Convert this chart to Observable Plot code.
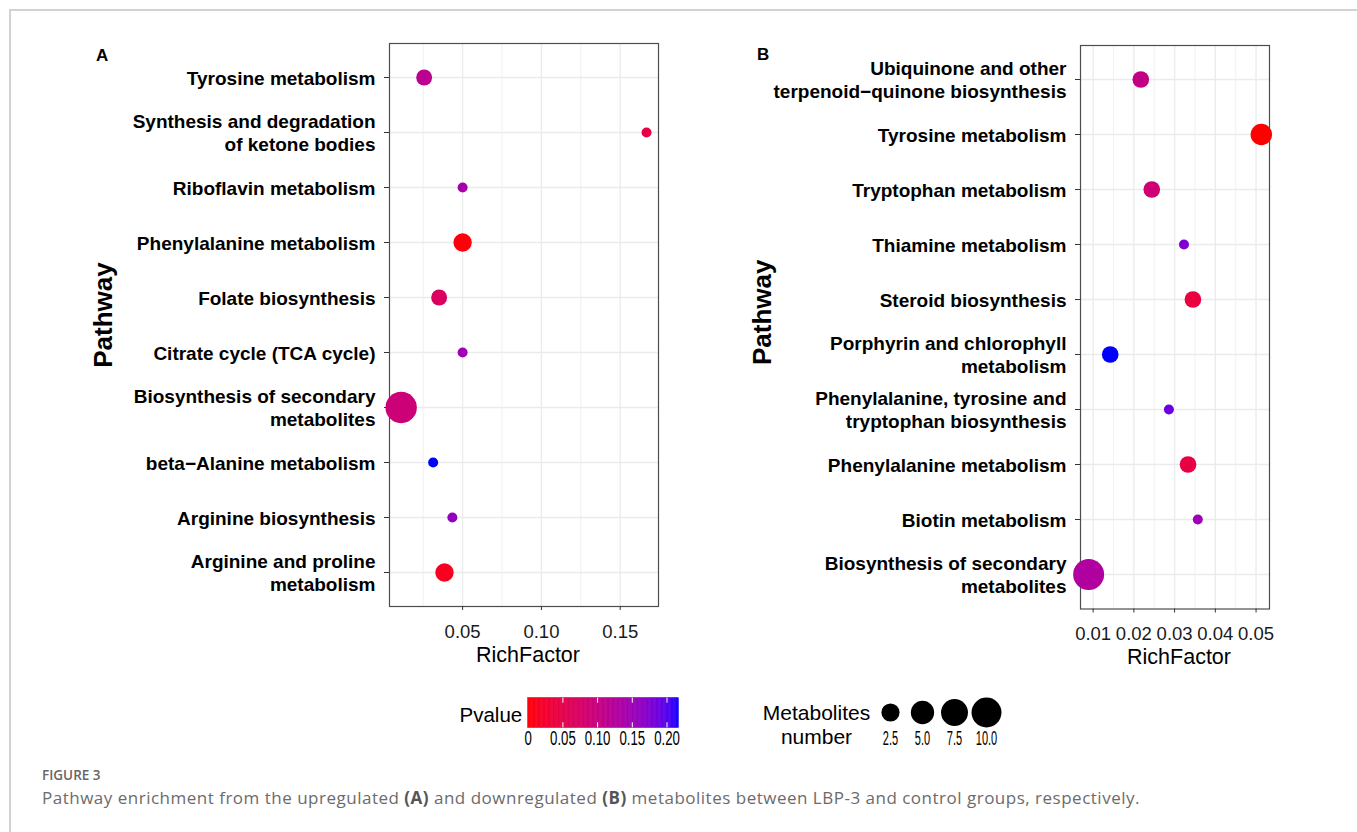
<!DOCTYPE html>
<html><head><meta charset="utf-8">
<script src="https://cdn.jsdelivr.net/npm/d3@7"></script>
<script src="https://cdn.jsdelivr.net/npm/@observablehq/plot@0.6"></script>
<style>
html,body{margin:0;padding:0;background:#fff;}
#fig{position:relative;width:1357px;height:832px;overflow:hidden;background:#fff;font-family:"Liberation Sans",Arial,sans-serif;}
.abs{position:absolute;}
#frameTop{left:9px;top:9px;width:1348px;height:0;border-top:2px solid #d2d2d2;}
#frameLeft{left:9px;top:9px;width:0;height:823px;border-left:2px solid #d2d2d2;}
.letter{font-weight:bold;font-size:17px;line-height:17px;color:#000;font-family:"Liberation Sans",Arial,sans-serif;}
#figlabel{left:42px;top:768.5px;font-family:"Open Sans",sans-serif;font-size:13.5px;line-height:13.5px;color:#666;font-weight:600;white-space:nowrap;}
#caption{left:42px;top:789px;font-family:"Open Sans",sans-serif;font-size:17px;line-height:17px;letter-spacing:0.5px;color:#6b6b6b;white-space:nowrap;}
#caption b{color:#555;font-weight:700;}
svg{overflow:visible;}
</style></head>
<body><div id="fig">
<div id="frameTop" class="abs"></div>
<div id="frameLeft" class="abs"></div>
<div id="panelA" class="abs" style="left:0;top:0;"></div>
<div id="panelB" class="abs" style="left:690px;top:0;"></div>
<div id="legP" class="abs" style="left:440px;top:680px;"></div>
<div id="legS" class="abs" style="left:750px;top:680px;"></div>
<div class="abs letter" style="left:96px;top:46.5px;">A</div>
<div class="abs letter" style="left:757px;top:45.5px;">B</div>
<div id="figlabel" class="abs">FIGURE 3</div>
<div id="caption" class="abs">Pathway enrichment from the upregulated <b>(A)</b> and downregulated <b>(B)</b> metabolites between LBP-3 and control groups, respectively.</div>
</div>
<script>
// ---- Panel A data (top to bottom) ----
const pathwaysA = [
  "Tyrosine metabolism",
  "Synthesis and degradation\nof ketone bodies",
  "Riboflavin metabolism",
  "Phenylalanine metabolism",
  "Folate biosynthesis",
  "Citrate cycle (TCA cycle)",
  "Biosynthesis of secondary\nmetabolites",
  "beta\u2212Alanine metabolism",
  "Arginine biosynthesis",
  "Arginine and proline\nmetabolism"
];
const richA  = [0.0256, 0.1667, 0.05, 0.05, 0.0351, 0.05, 0.0110, 0.0313, 0.0435, 0.0385];
const pvalA  = [0.115, 0.048, 0.141, 0.004, 0.070, 0.148, 0.092, 0.217, 0.160, 0.015];
const countA = [2, 1, 1, 3, 2, 1, 14, 1, 1, 3];

// ---- Panel B data (top to bottom) ----
const pathwaysB = [
  "Ubiquinone and other\nterpenoid\u2212quinone biosynthesis",
  "Tyrosine metabolism",
  "Tryptophan metabolism",
  "Thiamine metabolism",
  "Steroid biosynthesis",
  "Porphyrin and chlorophyll\nmetabolism",
  "Phenylalanine, tyrosine and\ntryptophan biosynthesis",
  "Phenylalanine metabolism",
  "Biotin metabolism",
  "Biosynthesis of secondary\nmetabolites"
];
const richB  = [0.0217, 0.0513, 0.0244, 0.0323, 0.0345, 0.0142, 0.0286, 0.0333, 0.0357, 0.0089];
const pvalB  = [0.105, 0.0005, 0.088, 0.178, 0.040, 0.217, 0.190, 0.045, 0.150, 0.130];
const countB = [2, 4, 2, 1, 2, 2, 1, 2, 1, 11];

// ---- axis / legend ticks ----
const xTicksA = [0.05, 0.10, 0.15];
const xMinorA = [0.025, 0.075, 0.125];
const xTicksB = [0.01, 0.02, 0.03, 0.04, 0.05];
const xMinorB = [0.015, 0.025, 0.035, 0.045];
const pTicks = [0, 0.05, 0.10, 0.15, 0.20];
const sizeBreaks = [2.5, 5.0, 7.5, 10.0];
const sizeLabels = ["2.5", "5.0", "7.5", "10.0"];

const pDomain = [0, 0.217];
const FONT = "Liberation Sans, Arial, sans-serif";
const colorScale = {type: "linear", domain: pDomain, range: ["red", "blue"], interpolate: d3.interpolateLab};

function panel(o) {
  const data = o.pathways.map((p, i) => ({pathway: p, rich: o.rich[i], p: o.pval[i], n: o.count[i]}));
  return Plot.plot({
    width: o.width, height: o.height,
    marginLeft: o.ml, marginRight: o.mr, marginTop: o.mt, marginBottom: o.mb,
    style: {fontFamily: FONT, background: "transparent", overflow: "visible", color: "#000"},
    x: {domain: o.xDomain},
    y: {type: "point", domain: o.pathways, padding: 0.6},
    r: {type: "sqrt", domain: [0, o.rMax], range: o.rRange},
    color: colorScale,
    marks: [
      Plot.gridX(o.xMinor, {stroke: "#ebebeb", strokeOpacity: 1, strokeWidth: 0.7}),
      Plot.gridX(o.xTicks, {stroke: "#ebebeb", strokeOpacity: 1, strokeWidth: 1.3}),
      Plot.gridY(o.pathways, {stroke: "#ebebeb", strokeOpacity: 1, strokeWidth: 1.3}),
      Plot.frame({stroke: "#4d4d4d", strokeWidth: 1.2}),
      Plot.axisX({ticks: o.xTicks, tickFormat: d3.format(".2f"), tickSize: 4, tickPadding: 14,
        fontSize: 18.5, label: null, stroke: "#333", fill: "#1a1a1a"}),
      Plot.axisY({tickSize: 5, tickPadding: 9, fontSize: 19, fontWeight: "bold", lineHeight: 1.19,
        label: null, stroke: "#333", fill: "#000"}),
      Plot.dot(data, {x: "rich", y: "pathway", r: d => d.n - 1, fill: "p", stroke: "none"}),
      Plot.text(["RichFactor"], {frameAnchor: "bottom", textAnchor: "middle", dx: 4, dy: 55, fontSize: 21.5, fill: "#000"}),
      Plot.text(["Pathway"], {frameAnchor: "left", textAnchor: "middle", rotate: -90, dx: o.titleDx, dy: o.titleDy,
        fontSize: 26, fontWeight: "bold", fill: "#000"})
    ]
  });
}

document.getElementById("panelA").appendChild(panel({
  pathways: pathwaysA, rich: richA, pval: pvalA, count: countA,
  width: 690, height: 700, ml: 389, mr: 32, mt: 43, mb: 94,
  xDomain: [0.0036, 0.1743], xTicks: xTicksA, xMinor: xMinorA,
  rMax: 13, rRange: [5, 15.7], titleDx: -286, titleDy: -10
}));

document.getElementById("panelB").appendChild(panel({
  pathways: pathwaysB, rich: richB, pval: pvalB, count: countB,
  width: 667, height: 700, ml: 390, mr: 88, mt: 45, mb: 91.5,
  xDomain: [0.0069, 0.0533], xTicks: xTicksB, xMinor: xMinorB,
  rMax: 10, rRange: [5, 15.5], titleDx: -318, titleDy: -15
}));

// ---- Pvalue colourbar legend ----
const stops = d3.range(0, 121).map(i => pDomain[0] + (pDomain[1] - pDomain[0]) * i / 120);
const segs = stops.slice(0, -1).map((s, i) => ({x1: s, x2: stops[i + 1], v: (s + stops[i + 1]) / 2}));
const legP = Plot.plot({
  width: 260, height: 80, marginLeft: 87.7, marginRight: 21.7, marginTop: 17.7, marginBottom: 32.7,
  style: {fontFamily: FONT, background: "transparent", overflow: "visible", color: "#000"},
  x: {domain: pDomain},
  y: {domain: [0, 1], axis: null},
  color: colorScale,
  marks: [
    Plot.rect(segs, {x1: "x1", x2: "x2", y1: 0, y2: 1, fill: "v", stroke: "v", strokeWidth: 0.6}),
    Plot.ruleX(pTicks.slice(1), {x: d => d, y1: 0.83, y2: 1, stroke: "white", strokeWidth: 1}),
    Plot.ruleX(pTicks.slice(1), {x: d => d, y1: 0, y2: 0.17, stroke: "white", strokeWidth: 1}),
    Plot.axisX({ticks: pTicks, tickFormat: d => d === 0 ? "0" : d3.format(".2f")(d), tickSize: 0,
      tickPadding: 3, fontSize: 20, label: null, fill: "#000"}),
    Plot.text(["Pvalue"], {frameAnchor: "left", dx: -6, dy: 2, textAnchor: "end", fontSize: 20.5, fill: "#000"})
  ]
});
document.getElementById("legP").appendChild(legP);

// ---- Metabolites number size legend ----
const legS = Plot.plot({
  width: 270, height: 80, marginLeft: 139.3, marginRight: 33.3, marginTop: 17, marginBottom: 33,
  style: {fontFamily: FONT, background: "transparent", overflow: "visible", color: "#000"},
  x: {type: "point", domain: sizeLabels, padding: 0},
  r: {type: "sqrt", domain: [0, 10], range: [5, 15.5]},
  marks: [
    Plot.dot(sizeBreaks, {x: (d, i) => sizeLabels[i], r: d => d - 1, fill: "black", stroke: "none"}),
    Plot.axisX({tickSize: 0, tickPadding: 3, fontSize: 20, label: null, fill: "#000"}),
    Plot.text(["Metabolites\nnumber"], {frameAnchor: "left", dx: -73.3, dy: 11.6, textAnchor: "middle",
      lineHeight: 1.14, fontSize: 21, fill: "#000"})
  ]
});
document.getElementById("legS").appendChild(legS);

// horizontally condense the legend tick labels (as in the reference rendering)
function condense(svg, k) {
  svg.querySelectorAll('[aria-label="x-axis tick label"] text').forEach(t => {
    const tr = t.getAttribute("transform") || "";
    t.setAttribute("transform", (tr + ` scale(${k},1)`).trim());
  });
}
condense(legP, 0.66);
condense(legS, 0.55);
</script>
</body></html>
